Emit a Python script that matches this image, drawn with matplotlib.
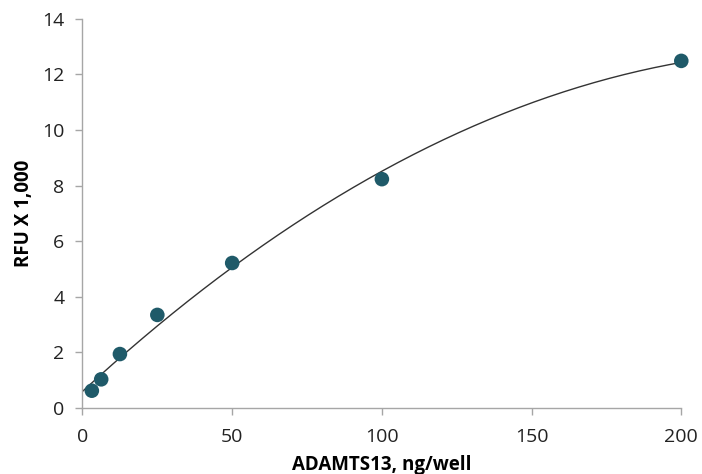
import numpy as np
import matplotlib.pyplot as plt

# datos: concentracion (ng/well) y RFU x 1000
conc = [3.125, 6.25, 12.5, 25, 50, 100, 200]
rfu = [0.61, 1.02, 1.93, 3.34, 5.21, 8.23, 12.49]

x_ticks = [0, 50, 100, 150, 200]
y_ticks = [0, 2, 4, 6, 8, 10, 12, 14]

plt.rcParams['font.family'] = ['Open Sans', 'DejaVu Sans']

fig = plt.figure(figsize=(7.02, 4.74), dpi=100)
ax = fig.add_axes([0.1175, 0.14, 0.853, 0.82])

# linea de tendencia polinomica (orden 2)
coef = np.polyfit(conc, rfu, 2)
xs = np.linspace(0, max(conc), 200)
ax.plot(xs, np.polyval(coef, xs), color='#333333', lw=1.0, zorder=2)

ax.scatter(conc, rfu, s=110, color='#1F5A69', zorder=3, edgecolors='none',
           clip_on=False)

ax.set_xlim(0, 200)
ax.set_ylim(0, 14)
ax.set_xticks(x_ticks)
ax.set_yticks(y_ticks)

for s in ['top', 'right']:
    ax.spines[s].set_visible(False)
for s in ['left', 'bottom']:
    ax.spines[s].set_color('#A6A6A6')
    ax.spines[s].set_linewidth(1.0)
ax.tick_params(length=5, width=1, color='#A6A6A6', labelsize=14, labelcolor='#222222')
ax.tick_params(axis='x', pad=10)
ax.tick_params(axis='y', pad=8)

ax.set_xlabel('ADAMTS13, ng/well', fontsize=13.5, fontweight='bold', labelpad=6)
ax.set_ylabel('RFU X 1,000', fontsize=13.5, fontweight='bold', labelpad=6)

fig.savefig('out.png', dpi=100)
